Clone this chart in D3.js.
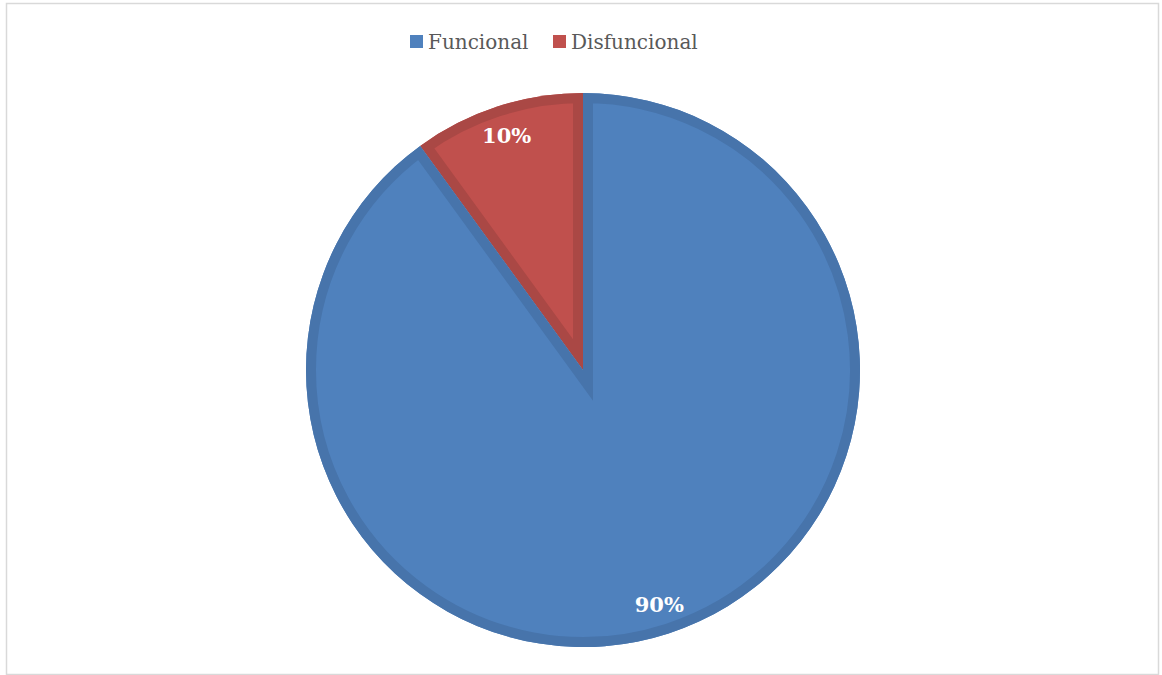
<!DOCTYPE html>
<html lang="es">
<head>
<meta charset="UTF-8">
<title>Funcional / Disfuncional</title>
<script src="https://d3js.org/d3.v7.min.js"></script>
<style>
  body { margin: 0; background: #fff; }
  svg { display: block; }
  .legend-text { font-family: "DejaVu Serif", serif; font-size: 20px; fill: #595959; }
  .label { font-family: "DejaVu Serif", serif; font-size: 21px; font-weight: bold; fill: #fff; }
</style>
</head>
<body>
<div id="chart"></div>
<script>
// datos
const categories = ["Funcional", "Disfuncional"];
const values = [90, 10];
const labels = ["90%", "10%"];
const fills = ["#4F81BD", "#C0504D"];
const borders = ["#4774AB", "#AA4845"];

const W = 1162, H = 675;
const cx = 583, cy = 370, r = 277;

const svg = d3.select("#chart").append("svg")
    .attr("width", W).attr("height", H);

// marco
svg.append("rect")
    .attr("x", 6.5).attr("y", 3.5)
    .attr("width", 1152).attr("height", 671)
    .attr("fill", "none").attr("stroke", "#d9d9d9").attr("stroke-width", 1.5);

// la porción pequeña termina en las 12, así que empieza girada
const pie = d3.pie().sort(null)
    .startAngle(-2 * Math.PI * values[1] / d3.sum(values))
    .endAngle(2 * Math.PI - 2 * Math.PI * values[1] / d3.sum(values));

// orden: Disfuncional primero para arrancar en -36°
const data = [1, 0].map(i => ({ i, v: values[i] }));
const arcs = pie.value(d => d.v)(data);

const arc = d3.arc().innerRadius(0).outerRadius(r);
const labelArc = d3.arc().innerRadius(247).outerRadius(247);

const g = svg.append("g").attr("transform", `translate(${cx},${cy})`);
const defs = svg.append("defs");

arcs.forEach((a, k) => {
    const id = "clip" + k;
    defs.append("clipPath").attr("id", id)
        .append("path").attr("d", arc(a));
    g.append("path")
        .attr("d", arc(a))
        .attr("fill", fills[a.data.i]);
    // borde interior (trazo recortado a la porción)
    g.append("path")
        .attr("d", arc(a))
        .attr("fill", "none")
        .attr("stroke", borders[a.data.i])
        .attr("stroke-width", 20)
        .attr("clip-path", `url(#${id})`);
});

arcs.forEach(a => {
    const [x, y] = labelArc.centroid(a);
    g.append("text")
        .attr("class", "label")
        .attr("x", x).attr("y", y)
        .attr("text-anchor", "middle")
        .attr("dominant-baseline", "central")
        .text(labels[a.data.i]);
});

// leyenda
const legendX = [410, 553];
categories.forEach((c, i) => {
    svg.append("rect")
        .attr("x", legendX[i]).attr("y", 35)
        .attr("width", 13).attr("height", 13)
        .attr("fill", fills[i]);
    svg.append("text")
        .attr("class", "legend-text")
        .attr("x", legendX[i] + 18).attr("y", 49)
        .text(c);
});
</script>
</body>
</html>
